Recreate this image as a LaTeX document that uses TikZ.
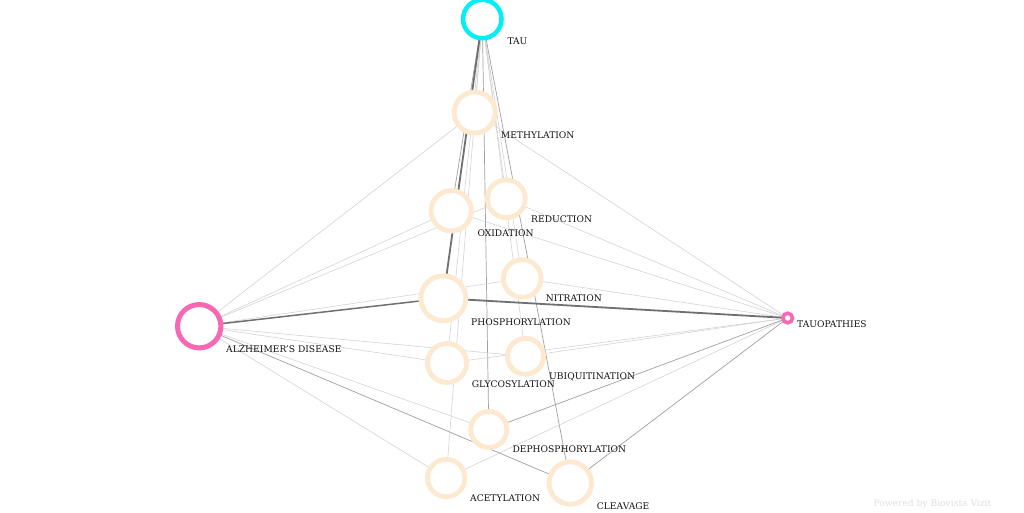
\documentclass[tikz,border=0pt]{standalone}
\usepackage{fontspec}
\setmainfont{DejaVu Serif}
\definecolor{bisq}{RGB}{253,233,208}
\definecolor{hpink}{RGB}{247,104,180}
\definecolor{tcyan}{RGB}{0,240,245}
\definecolor{elite}{RGB}{212,212,212}
\definecolor{emid}{RGB}{160,160,160}
\definecolor{edark}{RGB}{112,112,112}
\tikzset{
 lite/.style={draw=elite, line width=0.6pt},
 midl/.style={draw=emid, line width=0.7pt},
 dark/.style={draw=edark, line width=1.8pt},
 ent/.style={circle, draw=bisq, fill=white, line width=4.8pt, inner sep=0pt},
 lab/.style={anchor=base west, font=\fontsize{9.15}{10}\selectfont, text=black!92, inner sep=0pt},
}
\begin{document}
\begin{tikzpicture}[x=1pt,y=-1pt]
\path[fill=white, use as bounding box] (0,0) rectangle (1024,512);
% node centres (edges drawn under nodes)
\coordinate (ctau) at (482.3,19);
\coordinate (cmeth) at (474.7,112.5);
\coordinate (cred) at (506.3,198.7);
\coordinate (coxi) at (451.2,210.8);
\coordinate (cnit) at (522.2,278.5);
\coordinate (cphos) at (443.3,298.3);
\coordinate (cgly) at (447,363);
\coordinate (cubi) at (525.5,356.3);
\coordinate (cdep) at (488.8,429.5);
\coordinate (cace) at (446.2,478);
\coordinate (ccle) at (570.3,483);
\coordinate (calz) at (199.2,326.2);
\coordinate (ctop) at (787.7,318);
% edges from TAU
\draw[lite] (ctau) -- (cmeth);
\draw[lite] (ctau) -- (cgly);
\draw[lite] (ctau) -- (cace);
\draw[lite] (ctau) -- (cred);
\draw[lite] (ctau) -- (cnit);
\draw[lite] (ctau) -- (cubi);
\draw[midl] (ctau) -- (cdep);
\draw[midl] (ctau) -- (ccle);
\draw[midl] (ctau) -- (coxi);
\draw[dark] (ctau) -- (cphos);
% edges from ALZHEIMER'S DISEASE
\draw[lite] (calz) -- (cmeth);
\draw[lite] (calz) -- (coxi);
\draw[lite] (calz) -- (cred);
\draw[lite] (calz) -- (cnit);
\draw[lite] (calz) -- (cgly);
\draw[lite] (calz) -- (cubi);
\draw[lite] (calz) -- (cdep);
\draw[lite] (calz) -- (cace);
\draw[midl] (calz) -- (ccle);
\draw[dark, line width=1.5pt] (calz) -- (cphos);
% edges from TAUOPATHIES
\draw[lite] (ctop) -- (cmeth);
\draw[lite] (ctop) -- (cred);
\draw[lite] (ctop) -- (coxi);
\draw[lite] (ctop) -- (cnit);
\draw[lite] (ctop) -- (cgly);
\draw[lite] (ctop) -- (cubi);
\draw[lite] (ctop) -- (cace);
\draw[midl] (ctop) -- (cdep);
\draw[midl] (ctop) -- (ccle);
\draw[dark] (ctop) -- (cphos);
% entity circles
\node[ent, draw=tcyan, line width=4.5pt, minimum size=38.5pt] (tau) at (ctau) {};
\node[ent, minimum size=41pt] (meth) at (cmeth) {};
\node[ent, minimum size=37.8pt] (red) at (cred) {};
\node[ent, minimum size=40.4pt] (oxi) at (coxi) {};
\node[ent, minimum size=37.6pt] (nit) at (cnit) {};
\node[ent, minimum size=45pt] (phos) at (cphos) {};
\node[ent, minimum size=39pt] (gly) at (cgly) {};
\node[ent, minimum size=36pt] (ubi) at (cubi) {};
\node[ent, minimum size=36pt] (dep) at (cdep) {};
\node[ent, minimum size=37.4pt] (ace) at (cace) {};
\node[ent, minimum size=42.4pt] (cle) at (ccle) {};
\node[ent, draw=hpink, line width=5pt, minimum size=43.4pt] (alz) at (calz) {};
\node[ent, draw=hpink, line width=3.6pt, minimum size=9.6pt] (top) at (ctop) {};
% labels
\node[lab] (taul) at (507.3,44.3) {TAU};
\node[lab] (methl) at (500.7,138.3) {METHYLATION};
\node[lab] (redl) at (531,222.7) {REDUCTION};
\node[lab] (oxil) at (477.3,236.3) {OXIDATION};
\node[lab] (nitl) at (545.7,301.7) {NITRATION};
\node[lab] (phosl) at (471,325.7) {PHOSPHORYLATION};
\node[lab] (glyl) at (471.7,387.3) {GLYCOSYLATION};
\node[lab] (ubil) at (549,379.3) {UBIQUITINATION};
\node[lab] (depl) at (512.3,452.3) {DEPHOSPHORYLATION};
\node[lab] (acel) at (470,501.7) {ACETYLATION};
\node[lab] (clel) at (596.7,509) {CLEAVAGE};
\node[lab] (alzl) at (226,352.7) {ALZHEIMER'S DISEASE};
\node[lab] (topl) at (797,327.3) {TAUOPATHIES};
\node[lab, text=black!12] (pow) at (873.3,506) {Powered by Biovista Vizit};
\end{tikzpicture}
\end{document}
